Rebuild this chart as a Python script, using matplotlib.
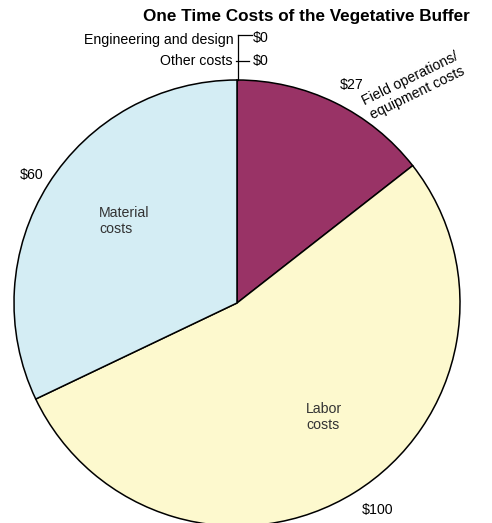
import matplotlib.pyplot as plt

plt.rcParams['font.family'] = ['Liberation Sans', 'DejaVu Sans']

categories = ["Field operations/\nequipment costs", "Labor\ncosts", "Material\ncosts",
              "Engineering and design", "Other costs"]
values = [27, 100, 60, 0, 0]
colors = ["#993366", "#FDF9CE", "#D4EDF4", "#FFFFFF", "#FFFFFF"]

fig = plt.figure(figsize=(4.92, 5.23), dpi=100)
ax = fig.add_axes([0, 0, 1, 1])
ax.set_xlim(0, 492)
ax.set_ylim(0, 523)
ax.set_aspect("equal")
ax.axis("off")

# only non-zero slices go into the pie
shown = [(v, c) for v, c in zip(values, colors) if v > 0]
cx, cy, r = 237, 220, 223
ax.pie([v for v, c in shown], colors=[c for v, c in shown], startangle=90,
       counterclock=False, center=(cx, cy), radius=r,
       wedgeprops=dict(edgecolor="black", linewidth=1.1))
ax.set_xlim(0, 492)
ax.set_ylim(0, 523)

ax.text(306, 523 - 17, "One Time Costs of the Vegetative Buffer", ha="center", va="center",
        fontsize=12.3, fontweight="bold")

# leader lines for the zero-cost items
ax.plot([238, 238], [cy + r, 523 - 35], color="black", lw=0.9)
ax.plot([238, 252], [523 - 35, 523 - 35], color="black", lw=0.9)
ax.plot([236, 249], [523 - 61, 523 - 61], color="black", lw=0.9)
ax.text(234, 523 - 40, categories[3], ha="right", va="center", fontsize=10.2)
ax.text(253, 523 - 38, "$%d" % values[3], ha="left", va="center", fontsize=10.2)
ax.text(232, 523 - 61, categories[4], ha="right", va="center", fontsize=10.2)
ax.text(253, 523 - 61, "$%d" % values[4], ha="left", va="center", fontsize=10.2)

# value labels around the pie
ax.text(352, 523 - 85, "$%d" % values[0], ha="center", va="center", fontsize=10.2)
ax.text(414, 523 - 86, categories[0], ha="center", va="center", fontsize=10.2,
        rotation=26, linespacing=1.15)
ax.text(32, 523 - 175, "$%d" % values[2], ha="center", va="center", fontsize=10.2)
ax.text(99, 523 - 221, categories[2], ha="left", va="center", fontsize=10.2,
        color="#333333", linespacing=1.2)
ax.text(306, 523 - 417, categories[1], ha="left", va="center", fontsize=10.2,
        color="#333333", linespacing=1.2)
ax.text(378, 523 - 510, "$%d" % values[1], ha="center", va="center", fontsize=10.2)

fig.savefig("out.png", dpi=100)
